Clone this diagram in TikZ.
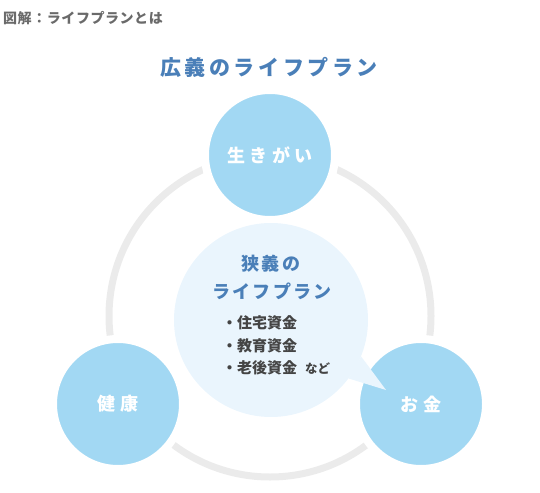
\documentclass[tikz,border=0pt]{standalone}
\usepackage{fontspec}
\newfontfamily\jpfont{Noto Sans CJK JP}
\definecolor{skyc}{HTML}{A2D8F3}
\definecolor{bubblec}{HTML}{EAF5FD}
\definecolor{ringc}{HTML}{EBEBEB}
\definecolor{titlec}{HTML}{4A7FB8}
\definecolor{headc}{HTML}{6A6A6A}
\definecolor{listc}{HTML}{444444}
\begin{document}
\begin{tikzpicture}[x=1pt,y=-1pt,
  topic/.style={circle,minimum size=130pt,inner sep=0pt,fill=skyc,draw=white,line width=8pt,text=white,
    font=\jpfont\fontsize{18}{20}\selectfont\bfseries\addfontfeature{LetterSpace=23}},
  bubble/.style={circle,minimum size=194pt,inner sep=0pt,fill=bubblec},
  headtxt/.style={text=headc,inner sep=0pt,font=\jpfont\fontsize{14}{16}\selectfont\bfseries\addfontfeature{LetterSpace=4}},
  titletxt/.style={text=titlec,inner sep=0pt,font=\jpfont\fontsize{21}{24}\selectfont\bfseries\addfontfeature{LetterSpace=17}},
  subtxt/.style={text=titlec,inner sep=0pt,font=\jpfont\fontsize{18}{20}\selectfont\bfseries\addfontfeature{LetterSpace=12}},
  listtxt/.style={text=listc,inner sep=0pt,anchor=west,font=\jpfont\fontsize{15}{17}\selectfont\bfseries}]
\useasboundingbox (0,0) rectangle (540,492);
\draw[ringc,line width=7pt] (270,316) circle[radius=161];
\node[topic] (ikigai) at (270,155) {生きがい};
\node[topic] (kenko) at (118,404) {健康};
\node[topic] (okane) at (421,404) {お金};
\node[bubble] (kyogi) at (271,320) {};
\coordinate (tip) at (386,390);
\fill[bubblec] (kyogi.-22) -- (tip) -- (kyogi.-37) -- cycle;
\node[headtxt,anchor=west] (zukai) at (3,18) {図解：ライフプランとは};
\node[titletxt] (kogi) at (269,67) {広義のライフプラン};
\node[subtxt] (kyogi1) at (271,264) {狭義の};
\node[subtxt] (kyogi2) at (272,291) {ライフプラン};
\node[listtxt] (item1) at (222,323) {・住宅資金};
\node[listtxt] (item2) at (222,346) {・教育資金};
\node[listtxt] (item3) at (222,368) {・老後資金\hspace{8pt}{\fontsize{12.5}{14}\selectfont など}};
\end{tikzpicture}
\end{document}
